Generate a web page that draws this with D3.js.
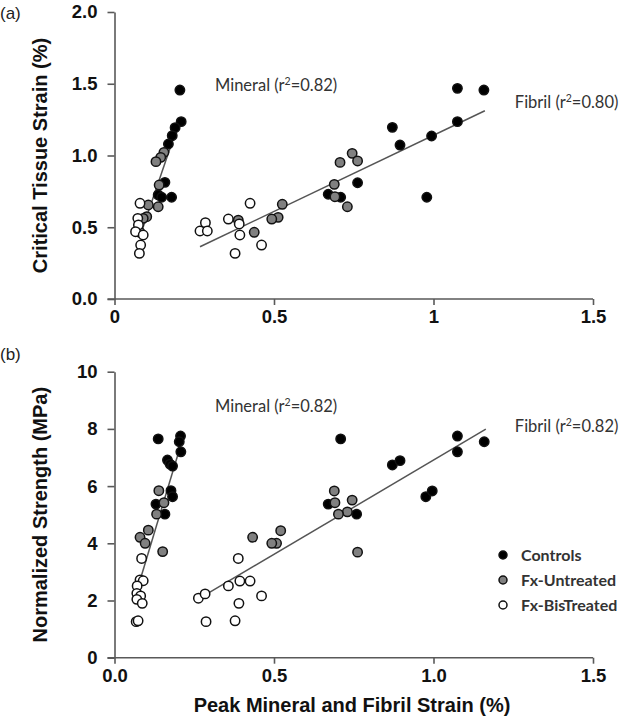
<!DOCTYPE html>
<html><head><meta charset="utf-8">
<script src="https://cdn.jsdelivr.net/npm/d3@7"></script>
<style>body{margin:0;background:#fff}svg{display:block}</style>
</head><body>
<script>
// ---- data: [x, y, group] group: 0=Controls,1=Fx-Untreated,2=Fx-BisTreated
const groups = ["Controls", "Fx-Untreated", "Fx-BisTreated"];
const groupFill = ["#000000", "#808080", "#ffffff"];

const strainMineral = [
  [0.205,1.456,0],[0.209,1.236,0],[0.190,1.194,0],[0.181,1.138,0],[0.169,1.080,0],
  [0.158,0.813,0],[0.137,0.725,0],[0.148,0.709,0],[0.179,0.709,0],
  [0.155,1.022,1],[0.145,0.987,1],[0.130,0.957,1],[0.140,0.794,1],[0.137,0.643,1],
  [0.106,0.655,1],[0.101,0.574,1],[0.090,0.562,1],[0.080,0.465,1],
  [0.080,0.667,2],[0.073,0.562,2],[0.075,0.516,2],[0.066,0.469,2],[0.090,0.446,2],
  [0.082,0.376,2],[0.078,0.318,2]
];
const strainFibril = [
  [1.075,1.468,0],[1.158,1.456,0],[1.075,1.236,0],[0.994,1.136,0],[0.871,1.196,0],
  [0.895,1.073,0],[0.979,0.709,0],[0.762,0.810,0],[0.670,0.730,0],[0.709,0.709,0],
  [0.745,1.015,1],[0.707,0.952,1],[0.762,0.962,1],[0.689,0.799,1],[0.691,0.713,1],
  [0.730,0.643,1],[0.526,0.660,1],[0.513,0.569,1],[0.493,0.557,1],[0.438,0.465,1],[0.388,0.550,1],
  [0.425,0.667,2],[0.357,0.557,2],[0.391,0.523,2],[0.393,0.446,2],[0.461,0.376,2],[0.378,0.318,2],
  [0.268,0.474,2],[0.285,0.532,2],[0.291,0.474,2]
];
const strengthMineral = [
  [0.137,7.65,0],[0.207,7.75,0],[0.203,7.55,0],[0.208,7.20,0],[0.166,6.91,0],[0.174,6.77,0],
  [0.182,6.70,0],[0.177,5.84,0],[0.182,5.63,0],[0.130,5.37,0],[0.158,5.02,0],
  [0.139,5.84,1],[0.132,5.02,1],[0.155,5.42,1],[0.106,4.46,1],[0.080,4.21,1],[0.096,4.00,1],[0.151,3.71,1],
  [0.085,3.47,2],[0.080,2.72,2],[0.090,2.69,2],[0.071,2.51,2],[0.070,2.25,2],[0.082,2.16,2],
  [0.070,2.04,2],[0.087,1.90,2],[0.068,1.26,2],[0.074,1.29,2]
];
const strengthFibril = [
  [1.075,7.75,0],[1.159,7.55,0],[1.075,7.20,0],[0.871,6.74,0],[0.895,6.89,0],[0.976,5.63,0],
  [0.996,5.83,0],[0.709,7.65,0],[0.670,5.37,0],[0.759,5.02,0],
  [0.689,5.83,1],[0.691,5.42,1],[0.745,5.51,1],[0.730,5.10,1],[0.702,5.02,1],[0.762,3.69,1],
  [0.521,4.44,1],[0.508,4.00,1],[0.493,4.00,1],[0.433,4.21,1],
  [0.388,3.47,2],[0.393,2.68,2],[0.425,2.68,2],[0.357,2.51,2],[0.461,2.16,2],[0.390,1.90,2],[0.378,1.29,2],
  [0.263,2.08,2],[0.284,2.23,2],[0.287,1.26,2]
];
// regression line endpoints
const fitStrainMineral = [[0.085,0.47],[0.200,1.22]];
const fitStrainFibril = [[0.268,0.364],[1.161,1.312]];
const fitStrengthMineral = [[0.082,2.78],[0.200,7.15]];
const fitStrengthFibril = [[0.258,2.02],[1.164,7.99]];

const xTicksTop = [0, 0.5, 1, 1.5];
const xTickLabelsTop = ["0", "0.5", "1", "1.5"];
const xTicksBottom = [0, 0.5, 1, 1.5];
const xTickLabelsBottom = ["0.0", "0.5", "1.0", "1.5"];
const yTicksTop = [0, 0.5, 1, 1.5, 2];
const yTickLabelsTop = ["0.0", "0.5", "1.0", "1.5", "2.0"];
const yTicksBottom = [0, 2, 4, 6, 8, 10];
const yTickLabelsBottom = ["0", "2", "4", "6", "8", "10"];

const W = 644, H = 727;
const svg = d3.select("body").append("svg").attr("width", W).attr("height", H);
const boldFont = "'Liberation Sans', Arial, sans-serif";
const annFont = "Lato, 'Open Sans', sans-serif";

function panel(opts) {
  const x = d3.scaleLinear().domain([0, 1.5]).range([114.5, 593]);
  const y = d3.scaleLinear().domain(opts.yDomain).range(opts.yRange);
  const g = svg.append("g");
  const axisColor = "#595959";

  const xAxis = d3.axisBottom(x).tickValues(opts.xTicks)
    .tickFormat((d, i) => opts.xLabels[i]).tickSizeOuter(0).tickSizeInner(6).tickPadding(5);
  const gx = g.append("g").attr("transform", `translate(0,${opts.yRange[0]})`).call(xAxis);
  gx.select(".domain").attr("stroke", axisColor).attr("stroke-width", 1.6).attr("d", `M${x(0)-7},0H${x(1.5)}`);
  gx.selectAll(".tick line").attr("stroke", axisColor).attr("stroke-width", 1.6);
  gx.selectAll(".tick text").attr("fill", "#111").attr("font-family", boldFont)
    .attr("font-weight", "bold").attr("font-size", 18.5);

  const yAxis = d3.axisLeft(y).tickValues(opts.yTicks)
    .tickFormat((d, i) => opts.yLabels[i]).tickSizeOuter(0).tickSizeInner(7).tickPadding(10);
  const gy = g.append("g").attr("transform", `translate(${x(0)},0)`).call(yAxis);
  gy.select(".domain").attr("stroke", axisColor).attr("stroke-width", 1.6);
  gy.selectAll(".tick line").attr("stroke", axisColor).attr("stroke-width", 1.6);
  gy.selectAll(".tick text").attr("fill", "#111").attr("font-family", boldFont)
    .attr("font-weight", "bold").attr("font-size", 18.5);

  // y title
  const yc = (opts.yRange[0] + opts.yRange[1]) / 2;
  g.append("text").attr("transform", `translate(47,${yc}) rotate(-90)`)
    .attr("text-anchor", "middle").attr("font-family", boldFont).attr("font-weight", "bold")
    .attr("font-size", 20).attr("fill", "#111").text(opts.yTitle);

  // panel label
  g.append("text").attr("x", 0).attr("y", opts.labelY).attr("font-family", boldFont)
    .attr("font-size", 17).attr("fill", "#222").text(opts.panelLabel);

  // fit lines
  const line = d3.line().x(d => x(d[0])).y(d => y(d[1]));
  opts.fits.forEach(f => g.append("path").attr("d", line(f)).attr("stroke", "#555")
    .attr("stroke-width", 1.5).attr("fill", "none"));

  // points
  const pts = opts.sets.flat();
  g.selectAll("circle.pt").data(pts).join("circle").attr("class", "pt")
    .attr("cx", d => x(d[0])).attr("cy", d => y(d[1])).attr("r", 4.7)
    .attr("fill", d => groupFill[d[2]]).attr("stroke", "#111").attr("stroke-width", 1.5);

  // annotations
  opts.anns.forEach(a => {
    const t = g.append("text").attr("x", x(a.x)).attr("y", y(a.y)).attr("font-family", annFont)
      .attr("font-size", 16.5).attr("fill", "#333");
    t.append("tspan").text(a.name + " (r");
    t.append("tspan").attr("dy", -6).attr("font-size", 10.5).text("2");
    t.append("tspan").attr("dy", 6).text("=" + a.r + ")");
  });
  return {x, y, g};
}

panel({
  yDomain: [0, 2], yRange: [299, 12],
  xTicks: xTicksTop, xLabels: xTickLabelsTop, yTicks: yTicksTop, yLabels: yTickLabelsTop,
  yTitle: "Critical Tissue Strain (%)", panelLabel: "(a)", labelY: 19,
  fits: [fitStrainMineral, fitStrainFibril],
  sets: [strainMineral, strainFibril],
  anns: [{name: "Mineral", r: "0.82", x: 0.315, y: 1.45}, {name: "Fibril", r: "0.80", x: 1.255, y: 1.33}]
});

panel({
  yDomain: [0, 10], yRange: [657.7, 371.7],
  xTicks: xTicksBottom, xLabels: xTickLabelsBottom, yTicks: yTicksBottom, yLabels: yTickLabelsBottom,
  yTitle: "Normalized Strength (MPa)", panelLabel: "(b)", labelY: 360,
  fits: [fitStrengthMineral, fitStrengthFibril],
  sets: [strengthMineral, strengthFibril],
  anns: [{name: "Mineral", r: "0.82", x: 0.315, y: 8.6}, {name: "Fibril", r: "0.82", x: 1.255, y: 7.9}]
});

// x title
svg.append("text").attr("x", 352).attr("y", 712).attr("text-anchor", "middle")
  .attr("font-family", boldFont).attr("font-weight", "bold").attr("font-size", 20)
  .attr("fill", "#111").text("Peak Mineral and Fibril Strain (%)");

// legend
const leg = svg.append("g");
groups.forEach((gname, i) => {
  const cy = 555 + i * 25;
  leg.append("circle").attr("cx", 503).attr("cy", cy).attr("r", 4)
    .attr("fill", groupFill[i]).attr("stroke", "#111").attr("stroke-width", 1.5);
  leg.append("text").attr("x", 521).attr("y", cy + 6).attr("font-family", annFont)
    .attr("font-weight", "bold").attr("font-size", 16).attr("fill", "#333").text(gname);
});
</script>
</body></html>
